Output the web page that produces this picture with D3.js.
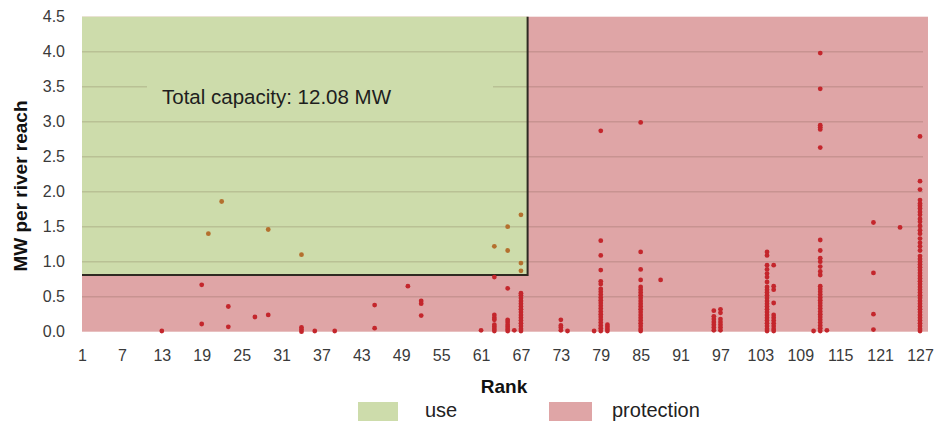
<!DOCTYPE html>
<html>
<head>
<meta charset="utf-8">
<script src="https://cdn.jsdelivr.net/npm/d3@7"></script>
<style>
  html, body { margin: 0; padding: 0; background: #ffffff; }
  svg { display: block; font-family: "Liberation Sans", Arial, sans-serif; }
</style>
</head>
<body>
<svg id="chart" width="939" height="421"></svg>
<script>
// ---- data ----
const columnRanks = [13, 19, 20, 22, 23, 27, 29, 34, 36, 39, 45, 50, 52, 61, 63, 65, 66, 67,
  73, 74, 78, 79, 80, 85, 88, 96, 97, 104, 105, 111, 112, 113, 120, 124, 127];
const columnValues = [
  [0.01],
  [0.67, 0.11],
  [1.40],
  [1.86],
  [0.36, 0.07],
  [0.21],
  [1.46, 0.24],
  [1.10, 0.06, 0.03, 0.00],
  [0.01],
  [0.01],
  [0.38, 0.05],
  [0.65],
  [0.44, 0.40, 0.23],
  [0.02],
  [1.22, 0.78, 0.24, 0.20, 0.17, 0.10, 0.07, 0.04, 0.01],
  [1.50, 1.16, 0.62, 0.17, 0.14, 0.10, 0.07, 0.04, 0.01],
  [0.02],
  [1.67, 0.98, 0.87, 0.55, 0.52, 0.48, 0.44, 0.40, 0.36, 0.32, 0.28, 0.24, 0.20, 0.16, 0.12, 0.08, 0.04, 0.01],
  [0.17, 0.09, 0.06, 0.02],
  [0.01],
  [0.01],
  [2.87, 1.30, 1.09, 0.88, 0.72, 0.68, 0.61, 0.57, 0.53, 0.49, 0.45, 0.41, 0.37, 0.33, 0.29, 0.25, 0.21, 0.17, 0.13, 0.09, 0.05, 0.01],
  [0.10, 0.07, 0.04, 0.01],
  [2.99, 1.14, 0.89, 0.74, 0.64, 0.60, 0.56, 0.52, 0.48, 0.44, 0.40, 0.36, 0.32, 0.28, 0.24, 0.20, 0.16, 0.12, 0.08, 0.04, 0.01],
  [0.74],
  [0.30, 0.22, 0.18, 0.14, 0.10, 0.06, 0.02],
  [0.32, 0.27, 0.18, 0.14, 0.10, 0.06, 0.02],
  [1.14, 1.09, 0.95, 0.89, 0.83, 0.78, 0.71, 0.64, 0.60, 0.56, 0.52, 0.48, 0.44, 0.40, 0.36, 0.32, 0.28, 0.24, 0.20, 0.16, 0.12, 0.08, 0.04, 0.01],
  [0.95, 0.65, 0.60, 0.41, 0.24, 0.20, 0.16, 0.12, 0.08, 0.04, 0.01],
  [0.01],
  [3.98, 3.47, 2.95, 2.92, 2.89, 2.63, 1.31, 1.16, 1.05, 1.00, 0.93, 0.86, 0.81, 0.65, 0.61, 0.57, 0.53, 0.49, 0.45, 0.41, 0.37, 0.33, 0.29, 0.25, 0.21, 0.17, 0.13, 0.09, 0.05, 0.01],
  [0.02],
  [1.56, 0.84, 0.25, 0.03],
  [1.49],
  [2.79, 2.15, 2.03, 1.88, 1.83, 1.80, 1.76, 1.71, 1.67, 1.61, 1.57, 1.51, 1.45, 1.40, 1.33, 1.27, 1.22, 1.16, 1.08, 1.04, 1.00, 0.96, 0.92, 0.88, 0.84, 0.80, 0.76, 0.72, 0.68, 0.64, 0.60, 0.56, 0.52, 0.48, 0.44, 0.40, 0.36, 0.32, 0.28, 0.24, 0.20, 0.16, 0.12, 0.08, 0.04, 0.01]
];
const xTickLabels = [1, 7, 13, 19, 25, 31, 37, 43, 49, 55, 61, 67, 73, 79, 85, 91, 97, 103, 109, 115, 121, 127];
const yTickLabels = [0.0, 0.5, 1.0, 1.5, 2.0, 2.5, 3.0, 3.5, 4.0, 4.5];
const useRankLimit = 68;     // boundary rank of the "use" zone
const useValueLimit = 0.81;  // MW threshold of the "use" zone
const annotation = "Total capacity: 12.08 MW";
const legendItems = ["use", "protection"];
const xTitle = "Rank";
const yTitle = "MW per river reach";

// ---- build ----
const points = [];
columnRanks.forEach((r, i) => columnValues[i].forEach(v => points.push({ rank: r, value: v })));

const svg = d3.select("#chart");
const x = d3.scaleLinear().domain([1, 127]).range([82, 920]);
const y = d3.scaleLinear().domain([0, 4.5]).range([331.7, 16.7]);
const xMax = 128.2;

const colGreen = "#cddcab", colRed = "#dfa5a6";
const inUse = d => d.rank < useRankLimit && d.value > useValueLimit;

// backgrounds
svg.append("rect").attr("x", x(1)).attr("y", y(4.5))
  .attr("width", x(xMax) - x(1)).attr("height", y(0) - y(4.5)).attr("fill", colRed);
svg.append("rect").attr("x", x(1)).attr("y", y(4.5))
  .attr("width", x(useRankLimit) - x(1)).attr("height", y(useValueLimit) - y(4.5)).attr("fill", colGreen);

// gridlines
svg.append("g").selectAll("line").data(yTickLabels.filter(v => v > 0 && v < 4.5)).join("line")
  .attr("x1", x(1)).attr("x2", x(xMax) - 5)
  .attr("y1", d => y(d)).attr("y2", d => y(d))
  .attr("stroke", "#5a3a2a").attr("stroke-opacity", 0.17).attr("stroke-width", 1.6);

// annotation box + text
svg.append("rect").attr("x", 147).attr("y", y(3.64)).attr("width", 346).attr("height", y(3.13) - y(3.64))
  .attr("fill", colGreen);
svg.append("text").attr("x", 162).attr("y", 104).attr("font-size", 20.5).attr("fill", "#1e1e1e")
  .text(annotation);

// boundary lines
svg.append("path")
  .attr("d", `M${x(1)},${y(useValueLimit)}H${x(useRankLimit)}V${y(4.5)}`)
  .attr("fill", "none").attr("stroke", "#2f2a22").attr("stroke-width", 2);

// points
svg.append("g").selectAll("circle").data(points).join("circle")
  .attr("cx", d => x(d.rank)).attr("cy", d => y(d.value)).attr("r", 2.4)
  .attr("fill", d => inUse(d) ? "#b4702e" : "#c4262c");

// y axis labels
const yAxis = d3.axisLeft(y).tickValues(yTickLabels).tickFormat(d3.format(".1f")).tickSize(0).tickPadding(17);
const gy = svg.append("g").attr("transform", `translate(${x(1)},0)`).call(yAxis);
gy.select(".domain").remove();
gy.selectAll("text").attr("fill", "#3a3a3a").attr("font-family", "'Liberation Sans', Arial, sans-serif").attr("font-size", 16);

// x axis labels
const xAxis = d3.axisBottom(x).tickValues(xTickLabels).tickFormat(d3.format("d")).tickSize(0).tickPadding(18);
const gx = svg.append("g").attr("transform", `translate(0,${y(0)})`).call(xAxis);
gx.select(".domain").remove();
gx.selectAll("text").attr("fill", "#3a3a3a").attr("font-family", "'Liberation Sans', Arial, sans-serif").attr("font-size", 16);

// axis titles
svg.append("text").attr("x", 504).attr("y", 393).attr("text-anchor", "middle")
  .attr("font-weight", "bold").attr("font-size", 19).attr("fill", "#111").text(xTitle);
svg.append("text").attr("transform", "translate(27,186) rotate(-90)").attr("text-anchor", "middle")
  .attr("font-weight", "bold").attr("font-size", 19).attr("fill", "#111").text(yTitle);

// legend
const legend = [
  { label: legendItems[0], color: colGreen, rx: 358, rw: 40, tx: 425 },
  { label: legendItems[1], color: colRed, rx: 549, rw: 43, tx: 612 }
];
const lg = svg.append("g").selectAll("g").data(legend).join("g");
lg.append("rect").attr("x", d => d.rx).attr("y", 402).attr("width", d => d.rw).attr("height", 19).attr("fill", d => d.color);
lg.append("text").attr("x", d => d.tx).attr("y", 417).attr("font-size", 20).attr("fill", "#222").text(d => d.label);
</script>
</body>
</html>
